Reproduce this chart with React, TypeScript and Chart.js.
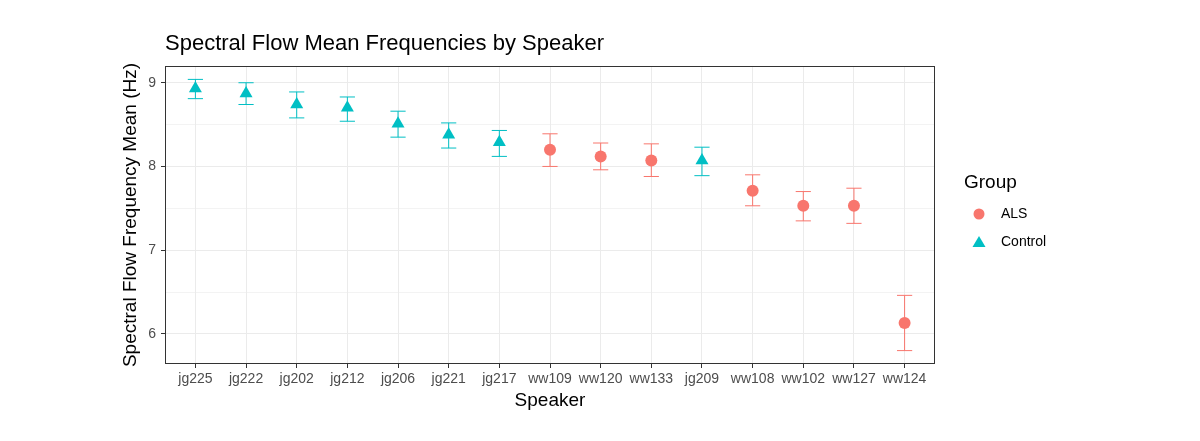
import { useEffect, useRef } from 'react';
import { Chart, registerables } from 'chart.js';

Chart.register(...registerables);

// speakers in plot order (sorted by mean)
const speakers = ['jg225', 'jg222', 'jg202', 'jg212', 'jg206', 'jg221', 'jg217', 'ww109', 'ww120', 'ww133', 'jg209', 'ww108', 'ww102', 'ww127', 'ww124'];
const groups = ['Control', 'Control', 'Control', 'Control', 'Control', 'Control', 'Control', 'ALS', 'ALS', 'ALS', 'Control', 'ALS', 'ALS', 'ALS', 'ALS'];
const means = [8.93, 8.87, 8.74, 8.70, 8.51, 8.38, 8.29, 8.20, 8.12, 8.07, 8.07, 7.71, 7.53, 7.53, 6.13];
const lowers = [8.81, 8.74, 8.58, 8.54, 8.35, 8.22, 8.12, 8.00, 7.96, 7.88, 7.89, 7.53, 7.35, 7.32, 5.80];
const uppers = [9.04, 9.00, 8.89, 8.83, 8.66, 8.52, 8.43, 8.39, 8.28, 8.27, 8.23, 7.90, 7.70, 7.74, 6.46];
const yTicks = [6, 7, 8, 9];
const groupNames = ['ALS', 'Control'];
const groupColors = ['#F8766D', '#00BFC4'];
const groupShapes = ['circle', 'triangle'];

const FONT = '"Liberation Sans", Arial, sans-serif';

// error bars + panel border + titles + legend
const decorPlugin = {
  id: 'decor',
  beforeDatasetsDraw: (chart: any) => {
    const { ctx } = chart;
    const x = chart.scales.x;
    const y = chart.scales.y;
    ctx.save();
    ctx.lineWidth = 1;
    speakers.forEach((_, i) => {
      const color = groupColors[groupNames.indexOf(groups[i])];
      const cx = x.getPixelForValue(i + 1);
      const x0 = x.getPixelForValue(i + 1 - 0.15);
      const x1 = x.getPixelForValue(i + 1 + 0.15);
      const yl = y.getPixelForValue(lowers[i]);
      const yu = y.getPixelForValue(uppers[i]);
      ctx.strokeStyle = color;
      ctx.beginPath();
      ctx.moveTo(x0, yu); ctx.lineTo(x1, yu);
      ctx.moveTo(cx, yu); ctx.lineTo(cx, yl);
      ctx.moveTo(x0, yl); ctx.lineTo(x1, yl);
      ctx.stroke();
    });
    ctx.restore();
  },
  afterDraw: (chart: any) => {
    const { ctx, chartArea } = chart;
    ctx.save();
    // panel border
    ctx.strokeStyle = '#333333';
    ctx.lineWidth = 1;
    ctx.strokeRect(chartArea.left + 0.5, chartArea.top + 0.5, chartArea.right - chartArea.left - 1, chartArea.bottom - chartArea.top - 1);

    // title
    ctx.fillStyle = '#000000';
    ctx.font = `22px ${FONT}`;
    ctx.textAlign = 'left';
    ctx.textBaseline = 'middle';
    ctx.fillText('Spectral Flow Mean Frequencies by Speaker', chartArea.left, 44);

    // axis titles
    ctx.font = `19px ${FONT}`;
    ctx.textAlign = 'center';
    ctx.fillText('Speaker', (chartArea.left + chartArea.right) / 2, 401);
    ctx.save();
    ctx.translate(131, (chartArea.top + chartArea.bottom) / 2);
    ctx.rotate(-Math.PI / 2);
    ctx.fillText('Spectral Flow Frequency Mean (Hz)', 0, 0);
    ctx.restore();

    // legend
    ctx.textAlign = 'left';
    ctx.font = `19px ${FONT}`;
    ctx.fillText('Group', 964, 183);
    ctx.font = `14px ${FONT}`;
    groupNames.forEach((g, i) => {
      const ly = 214 + i * 28;
      ctx.fillStyle = groupColors[i];
      if (groupShapes[i] === 'circle') {
        ctx.beginPath();
        ctx.arc(979, ly, 5.5, 0, Math.PI * 2);
        ctx.fill();
      } else {
        ctx.beginPath();
        ctx.moveTo(979, ly - 6);
        ctx.lineTo(985.5, ly + 5);
        ctx.lineTo(972.5, ly + 5);
        ctx.closePath();
        ctx.fill();
      }
      ctx.fillStyle = '#000000';
      ctx.fillText(g, 1001, ly);
    });
    ctx.restore();
  },
};

const App = () => {
  const canvasRef = useRef<HTMLCanvasElement>(null);
  const chartRef = useRef<Chart | null>(null);

  useEffect(() => {
    if (!canvasRef.current) return;
    if (chartRef.current) chartRef.current.destroy();

    const datasets = groupNames.map((g, gi) => ({
      label: g,
      data: speakers
        .map((_, i) => ({ x: i + 1, y: means[i], g: groups[i] }))
        .filter((p) => p.g === g),
      backgroundColor: groupColors[gi],
      borderColor: groupColors[gi],
      pointStyle: groupShapes[gi],
      pointRadius: gi === 0 ? 6 : 7.5,
      borderWidth: 0,
      showLine: false,
    }));

    chartRef.current = new Chart(canvasRef.current, {
      type: 'scatter',
      data: { datasets } as any,
      plugins: [decorPlugin],
      options: {
        animation: false,
        responsive: false,
        devicePixelRatio: 1,
        layout: { padding: { top: 66, right: 265, left: 0, bottom: 0 } },
        plugins: {
          legend: { display: false },
          tooltip: { enabled: false },
          title: { display: false },
        },
        scales: {
          x: {
            type: 'linear',
            min: 0.4,
            max: 15.6,
            afterBuildTicks: (scale: any) => {
              scale.ticks = speakers.map((_, i) => ({ value: i + 1 }));
            },
            afterFit: (scale: any) => {
              scale.height = 441 - 364;
            },
            ticks: {
              autoSkip: false,
              maxRotation: 0,
              padding: 3,
              color: '#4d4d4d',
              font: { family: FONT, size: 14 },
              callback: (v: any) => speakers[Math.round(v) - 1],
            },
            grid: { color: '#ebebeb', lineWidth: 1, tickColor: '#333333', tickLength: 4 },
            border: { display: false },
          },
          y: {
            type: 'linear',
            min: 5.64,
            max: 9.2,
            afterBuildTicks: (scale: any) => {
              const t: any[] = [];
              yTicks.forEach((v) => {
                t.push({ value: v });
                if (v + 0.5 < 9.2) t.push({ value: v + 0.5 });
              });
              scale.ticks = t;
            },
            afterFit: (scale: any) => {
              scale.width = 165;
            },
            ticks: {
              padding: 5,
              color: '#4d4d4d',
              font: { family: FONT, size: 14 },
              callback: (v: any) => (Number.isInteger(v) ? String(v) : ''),
            },
            grid: {
              color: '#ebebeb',
              lineWidth: (c: any) => (Number.isInteger(c.tick?.value) ? 1 : 0.6),
              tickColor: (c: any) => (Number.isInteger(c.tick?.value) ? '#333333' : 'rgba(0,0,0,0)'),
              tickLength: 4,
            },
            border: { display: false },
          },
        },
      },
    });

    return () => {
      if (chartRef.current) chartRef.current.destroy();
    };
  }, []);

  return (
    <div style={{ position: 'absolute', left: 0, top: 0, width: 1200, height: 441, background: '#ffffff' }}>
      <canvas ref={canvasRef} width={1200} height={441}></canvas>
    </div>
  );
};

export default App;
